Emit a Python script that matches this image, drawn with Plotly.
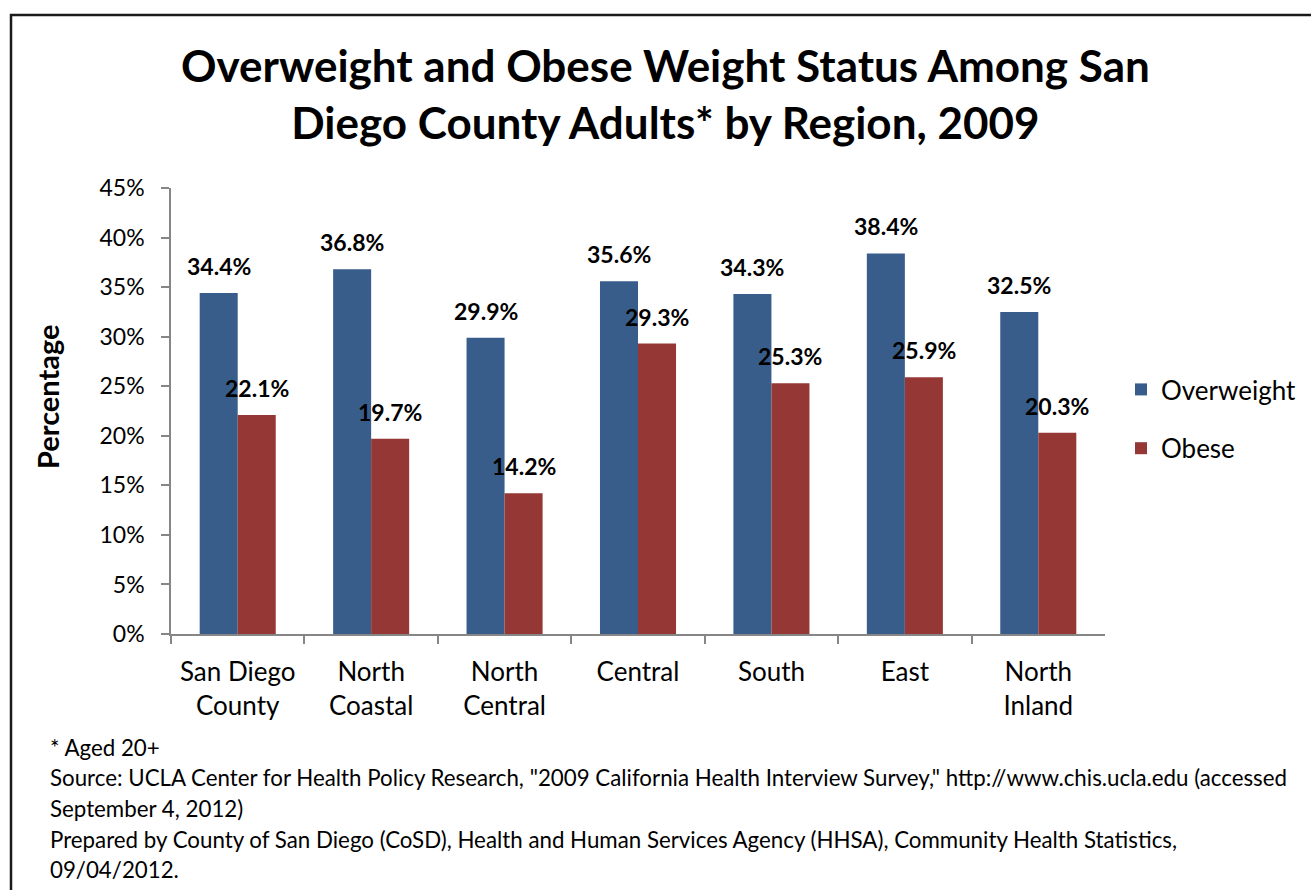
import plotly.graph_objects as go

# Regions and prevalence (%) of adults aged 20+, 2009
regions = ["San Diego<br>County", "North<br>Coastal", "North<br>Central", "Central",
           "South", "East", "North<br>Inland"]
overweight = [34.4, 36.8, 29.9, 35.6, 34.3, 38.4, 32.5]
obese = [22.1, 19.7, 14.2, 29.3, 25.3, 25.9, 20.3]
y_ticks = [0, 5, 10, 15, 20, 25, 30, 35, 40, 45]

W, H = 1311, 890
FONT = "Lato, 'Open Sans', sans-serif"
BLUE = "#385D8A"
RED = "#953735"
AXIS = "#868686"


def fx(px):
    return px / W


def fy(py):
    return 1 - py / H


fig = go.Figure()
fig.add_trace(go.Bar(name="Overweight", x=regions, y=overweight,
                     marker=dict(color=BLUE, line=dict(width=0)),
                     legendgroup="ow"))
fig.add_trace(go.Bar(name="Obese", x=regions, y=obese,
                     marker=dict(color=RED, line=dict(width=0)),
                     legendgroup="ob"))

# bold value labels above each bar
annotations = []
for series, shift in ((overweight, -19), (obese, 19)):
    for cat, v in zip(regions, series):
        annotations.append(dict(
            x=cat, y=v, xref="x", yref="y", text=f"<b>{v:.1f}%</b>",
            showarrow=False, xshift=shift, yanchor="bottom", yshift=11,
            font=dict(family=FONT, size=23, color="black")))

# chart title
annotations.append(dict(
    x=fx(665), y=fy(94), xref="paper", yref="paper",
    text="<b>Overweight and Obese Weight Status Among San<br>Diego County Adults* by Region, 2009</b>",
    showarrow=False, xanchor="center", yanchor="middle",
    font=dict(family=FONT, size=44, color="black")))

# vertical axis title
annotations.append(dict(
    x=fx(48), y=fy(397), xref="paper", yref="paper", text="<b>Percentage</b>",
    showarrow=False, textangle=-90, xanchor="center", yanchor="middle",
    font=dict(family=FONT, size=29, color="black")))

# footnotes
notes = [
    (747, "* Aged 20+"),
    (777, "Source: UCLA Center for Health Policy Research, \"2009 California Health Interview Survey,\" http://www.chis.ucla.edu (accessed"),
    (808, "September 4, 2012)"),
    (839, "Prepared by County of San Diego (CoSD), Health and Human Services Agency (HHSA), Community Health Statistics,"),
    (869, "09/04/2012."),
]
for ypx, txt in notes:
    annotations.append(dict(
        x=fx(48), y=fy(ypx), xref="paper", yref="paper", text=txt,
        showarrow=False, xanchor="left", yanchor="middle",
        font=dict(family=FONT, size=22.3, color="black")))

fig.update_layout(
    width=W, height=H,
    margin=dict(l=0, r=0, t=0, b=0, autoexpand=False),
    paper_bgcolor="white", plot_bgcolor="white",
    barmode="group", bargap=0.43, bargroupgap=0,
    font=dict(family=FONT, color="black"),
    showlegend=True,
    legend=dict(x=fx(1121), y=fy(366), xanchor="left", yanchor="top",
                font=dict(family=FONT, size=26, color="black"),
                tracegroupgap=22, bgcolor="rgba(0,0,0,0)"),
    xaxis=dict(domain=[fx(171), fx(1105)], automargin=False, showline=True,
               linecolor=AXIS, linewidth=1.5, ticks="outside",
               tickson="boundaries", ticklen=8, tickcolor=AXIS, tickwidth=1.5,
               showgrid=False, tickfont=dict(family=FONT, size=26, color="black"),
               ticklabelstandoff=14),
    yaxis=dict(domain=[fy(634), fy(188)], automargin=False, range=[0, 45],
               tickvals=y_ticks, ticktext=[f"{t}%" for t in y_ticks],
               showline=True, linecolor=AXIS, linewidth=1.5, ticks="outside",
               ticklen=8, tickcolor=AXIS, tickwidth=1.5, showgrid=False,
               zeroline=False, ticklabelstandoff=12,
               tickfont=dict(family=FONT, size=23, color="black")),
    annotations=annotations,
    shapes=[dict(type="rect", xref="paper", yref="paper",
                 x0=fx(11), x1=fx(1330), y0=fy(910), y1=fy(15),
                 line=dict(color="#1a1a1a", width=2.5))],
)

fig.write_html("out.html")
